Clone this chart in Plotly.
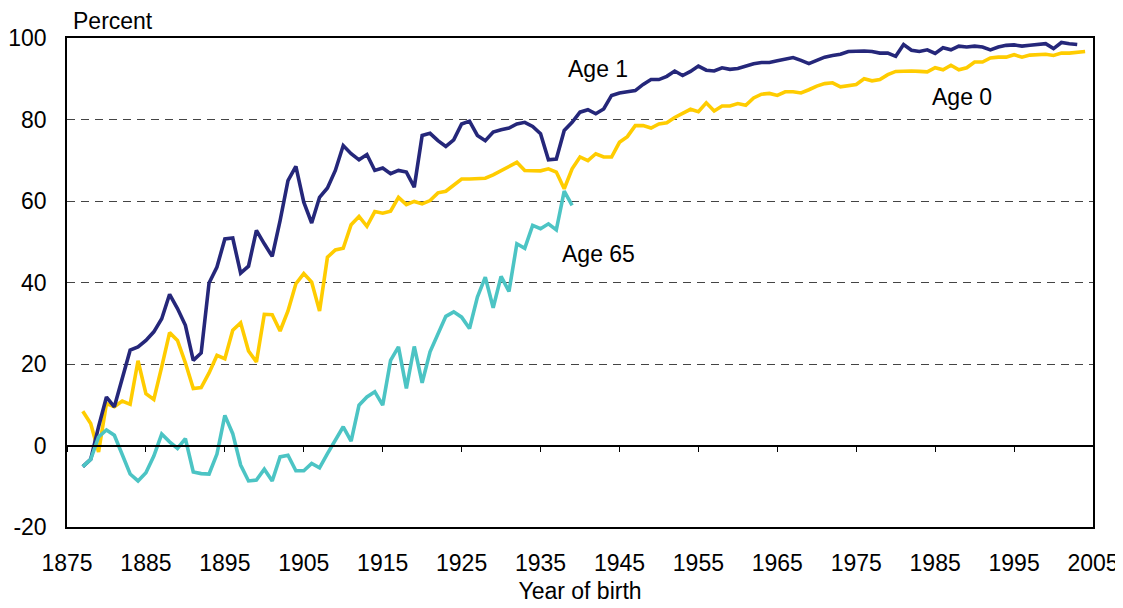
import plotly.graph_objects as go

# ---------------- data ----------------
years_age1 = list(range(1877, 2004))
age1 = [
    -5.2, -3.4, 4.6, 11.9, 9.5, 16.8, 23.4, 24.2, 25.8, 27.9,          # 1877-1886
    31.1, 37.1, 33.6, 29.5, 20.9, 22.7, 39.9, 43.8, 50.7, 50.9,        # 1887-1896
    42.3, 44.0, 52.8, 49.5, 46.4, 55.2, 65.0, 68.5, 59.7, 54.6,        # 1897-1906
    60.9, 63.2, 67.5, 73.6, 71.6, 70.1, 71.4, 67.5, 68.1, 66.7,        # 1907-1916
    67.5, 67.1, 63.4, 76.1, 76.6, 74.8, 73.4, 75.0, 78.9, 79.6,        # 1917-1926
    76.1, 74.8, 76.9, 77.5, 77.9, 78.9, 79.3, 78.3, 76.5, 70.1,        # 1927-1936
    70.3, 77.3, 79.3, 81.8, 82.4, 81.4, 82.6, 85.9, 86.5, 86.8,        # 1937-1946
    87.1, 88.6, 89.8, 89.8, 90.6, 91.9, 90.8, 91.8, 93.1, 92.1,        # 1947-1956
    91.9, 92.7, 92.3, 92.5, 93.1, 93.7, 94.0, 94.0, 94.4, 94.7,        # 1957-1966
    95.2, 94.5, 93.7, 94.5, 95.3, 95.7, 96.0, 96.7, 96.8, 96.8,        # 1967-1976
    96.7, 96.3, 96.3, 95.5, 98.4, 97.0, 96.7, 97.1, 96.2, 97.6,        # 1977-1986
    97.1, 98.0, 97.8, 98.0, 97.8, 97.1, 97.8, 98.2, 98.3, 98.0,        # 1987-1996
    98.2, 98.4, 98.6, 97.4, 98.9, 98.6, 98.4,                          # 1997-2003
]

years_age0 = list(range(1877, 2005))
age0 = [
    8.4, 5.4, -1.6, 10.3, 9.5, 10.9, 10.1, 20.8, 12.7, 11.3,           # 1877-1886
    19.3, 27.7, 25.8, 20.3, 14.0, 14.2, 17.8, 22.1, 21.3, 28.3,        # 1887-1896
    30.1, 23.2, 20.5, 32.2, 32.1, 28.1, 33.0, 39.7, 42.2, 40.1,        # 1897-1906
    33.0, 46.2, 48.0, 48.4, 54.2, 56.2, 53.8, 57.4, 57.0, 57.5,        # 1907-1916
    60.9, 59.1, 59.9, 59.3, 60.1, 62.0, 62.4, 64.0, 65.4, 65.4,        # 1917-1926
    65.5, 65.6, 66.4, 67.5, 68.5, 69.5, 67.5, 67.4, 67.4, 67.9,        # 1927-1936
    67.1, 63.0, 67.9, 70.8, 69.9, 71.6, 70.8, 70.8, 74.4, 75.8,        # 1937-1946
    78.5, 78.5, 77.9, 78.9, 79.2, 80.5, 81.5, 82.5, 81.9, 84.1,        # 1947-1956
    82.1, 83.3, 83.3, 83.9, 83.5, 85.3, 86.2, 86.4, 85.9, 86.8,        # 1957-1966
    86.8, 86.5, 87.3, 88.2, 88.8, 89.0, 88.0, 88.4, 88.6, 90.0,        # 1967-1976
    89.5, 89.8, 91.0, 91.8, 91.9, 91.9, 91.8, 91.7, 92.7, 92.2,        # 1977-1986
    93.3, 92.2, 92.7, 94.1, 94.1, 95.1, 95.3, 95.3, 95.9, 95.3,        # 1987-1996
    95.8, 95.9, 96.0, 95.7, 96.3, 96.3, 96.5, 96.7,                    # 1997-2004
]

years_age65 = list(range(1877, 1940))
age65 = [
    -5.2, -3.4, 2.1, 3.8, 2.5, -2.0, -7.0, -8.7, -6.7, -2.6,           # 1877-1886
    2.8, 0.9, -0.7, 1.7, -6.5, -6.9, -7.0, -2.1, 7.4, 2.9,             # 1887-1896
    -4.8, -8.7, -8.5, -5.8, -8.7, -2.8, -2.4, -6.2, -6.2, -4.4,        # 1897-1906
    -5.5, -2.0, 1.3, 4.6, 1.1, 9.9, 11.9, 13.2, 9.9, 20.9,             # 1907-1916
    24.2, 14.0, 24.3, 15.4, 23.0, 27.5, 31.7, 32.8, 31.5, 28.7,        # 1917-1926
    36.4, 41.3, 33.8, 41.5, 37.8, 49.5, 48.4, 54.0, 53.2, 54.4,        # 1927-1936
    52.9, 62.4, 58.9,                                                  # 1937-1939
]

x_ticks = list(range(1875, 2006, 10))
y_ticks = [-20, 0, 20, 40, 60, 80, 100]
y_tick_text = ["-20", "0", "20", "40", "60", "80", "100"]

labels = [("Age 1", 1942.3, 92.5), ("Age 0", 1988.4, 85.4), ("Age 65", 1942.4, 47.0)]

# ---------------- style ----------------
NAVY = "#25277A"
YELLOW = "#FFCC00"
TEAL = "#4CC4C4"
FONT = "Liberation Sans, Arial, sans-serif"
FS = 23
LW = 3.6

fig = go.Figure()
fig.add_trace(go.Scatter(x=years_age0, y=age0, mode="lines",
                         line=dict(color=YELLOW, width=LW), name="Age 0"))
fig.add_trace(go.Scatter(x=years_age1, y=age1, mode="lines",
                         line=dict(color=NAVY, width=LW), name="Age 1"))
fig.add_trace(go.Scatter(x=years_age65, y=age65, mode="lines",
                         line=dict(color=TEAL, width=LW), name="Age 65",
                         xaxis="x2"))

for text, xv, yv in labels:
    fig.add_annotation(x=xv, y=yv, text=text, showarrow=False,
                       font=dict(family=FONT, size=FS, color="black"),
                       xanchor="center", yanchor="middle")

fig.add_annotation(xref="paper", yref="paper", x=0, y=1, text="Percent",
                   showarrow=False, xanchor="left", yanchor="bottom",
                   xshift=4, yshift=2,
                   font=dict(family=FONT, size=FS, color="black"))

# the page body has an 8px margin, so the figure is 8px smaller on each axis
fig.update_layout(
    width=1115, height=600,
    margin=dict(l=59, r=30, t=30, b=81, autoexpand=False),
    paper_bgcolor="white", plot_bgcolor="white",
    showlegend=False,
    font=dict(family=FONT, size=FS, color="black"),
    xaxis=dict(
        range=[1875, 2005], tickvals=x_ticks, automargin=False,
        showgrid=False, zeroline=False,
        showline=True, linecolor="black", linewidth=1.5, mirror=True,
        ticks="", ticklabelstandoff=15,
        tickfont=dict(family=FONT, size=FS, color="black"),
        title=dict(text="Year of birth", standoff=8,
                   font=dict(family=FONT, size=FS, color="black")),
    ),
    xaxis2=dict(
        matches="x", overlaying="x", anchor="free", automargin=False,
        position=(0 - y_ticks[0]) / (y_ticks[-1] - y_ticks[0]),
        tickvals=x_ticks, showticklabels=False, showgrid=False,
        zeroline=False, showline=True, linecolor="black", linewidth=1.5,
        ticks="outside", ticklen=6, tickcolor="black", tickwidth=1,
    ),
    yaxis=dict(
        range=[-20, 100], tickvals=y_ticks, ticktext=y_tick_text,
        automargin=False,
        showgrid=True, gridcolor="#444444", gridwidth=1, griddash="8px,6px",
        zeroline=False,
        showline=True, linecolor="black", linewidth=1.5, mirror=True,
        ticks="", ticklabelstandoff=14,
        tickfont=dict(family=FONT, size=FS, color="black"),
    ),
)

fig.write_html("out.html")
